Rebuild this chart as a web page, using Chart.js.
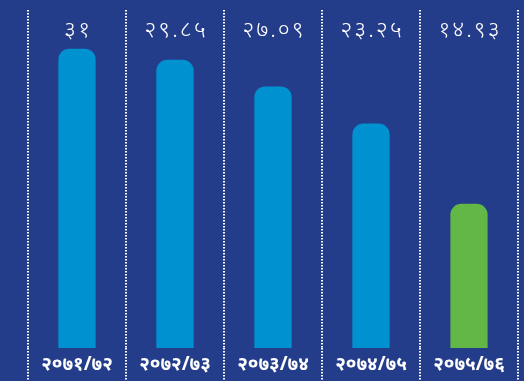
<!DOCTYPE html>
<html>
<head>
<meta charset="utf-8">
<script src="https://cdn.jsdelivr.net/npm/chart.js@4/dist/chart.umd.min.js"></script>
<style>
  html, body { margin: 0; padding: 0; background: #243d8b; }
  #wrap { width: 524px; height: 381px; }
</style>
</head>
<body>
<div id="wrap"><canvas id="canvas-1"></canvas></div>
<script>
  'use strict';

  var years = ['२०७१/७२', '२०७२/७३', '२०७३/७४', '२०७४/७५', '२०७५/७६'];
  var values = [31, 29.85, 27.09, 23.25, 14.93];
  var valueLabels = ['३१', '२९.८५', '२७.०९', '२३.२५', '१४.९३'];
  var barColors = ['#0092d0', '#0092d0', '#0092d0', '#0092d0', '#62b746'];

  // value text above each column, near the top of the plot
  var topLabels = {
    id: 'topLabels',
    afterDatasetsDraw: function (chart) {
      var ctx = chart.ctx;
      var x = chart.scales.x;
      ctx.save();
      ctx.fillStyle = '#ffffff';
      ctx.font = '300 23px "Noto Sans", sans-serif';
      ctx.letterSpacing = '2px';
      ctx.textAlign = 'center';
      ctx.textBaseline = 'middle';
      valueLabels.forEach(function (txt, i) {
        ctx.fillText(txt, x.getPixelForValue(i) + 1, chart.chartArea.top + 20);
      });
      ctx.restore();
    }
  };

  var dotted = function (c) { return c.index === 5 ? 'rgba(0,0,0,0)' : '#ffffff'; };

  var ctx = document.getElementById('canvas-1');
  var chart = new Chart(ctx, {
    type: 'bar',
    data: {
      labels: years,
      datasets: [{
        data: values,
        backgroundColor: barColors,
        borderRadius: { topLeft: 11, topRight: 11 },
        borderSkipped: 'start',
        categoryPercentage: 1,
        barPercentage: 0.38
      }]
    },
    options: {
      responsive: true,
      maintainAspectRatio: false,
      animation: false,
      layout: { padding: { left: 28, right: 6, top: 10, bottom: 0 } },
      plugins: {
        legend: { display: false },
        tooltip: { enabled: false }
      },
      scales: {
        x: {
          border: { display: false, dash: [1.5, 1.5] },
          grid: {
            offset: true,
            color: dotted,
            lineWidth: 2,
            tickLength: 33,
            tickBorderDash: [1.5, 1.5],
            tickColor: dotted,
            tickWidth: 2
          },
          ticks: {
            color: '#ffffff',
            padding: -28,
            font: { family: '"Noto Sans", sans-serif', size: 19, weight: 'bold' }
          },
          afterFit: function (scale) { scale.height = 33; }
        },
        y: {
          display: false,
          min: 0,
          max: 35
        }
      }
    },
    plugins: [topLabels]
  });
</script>
</body>
</html>
